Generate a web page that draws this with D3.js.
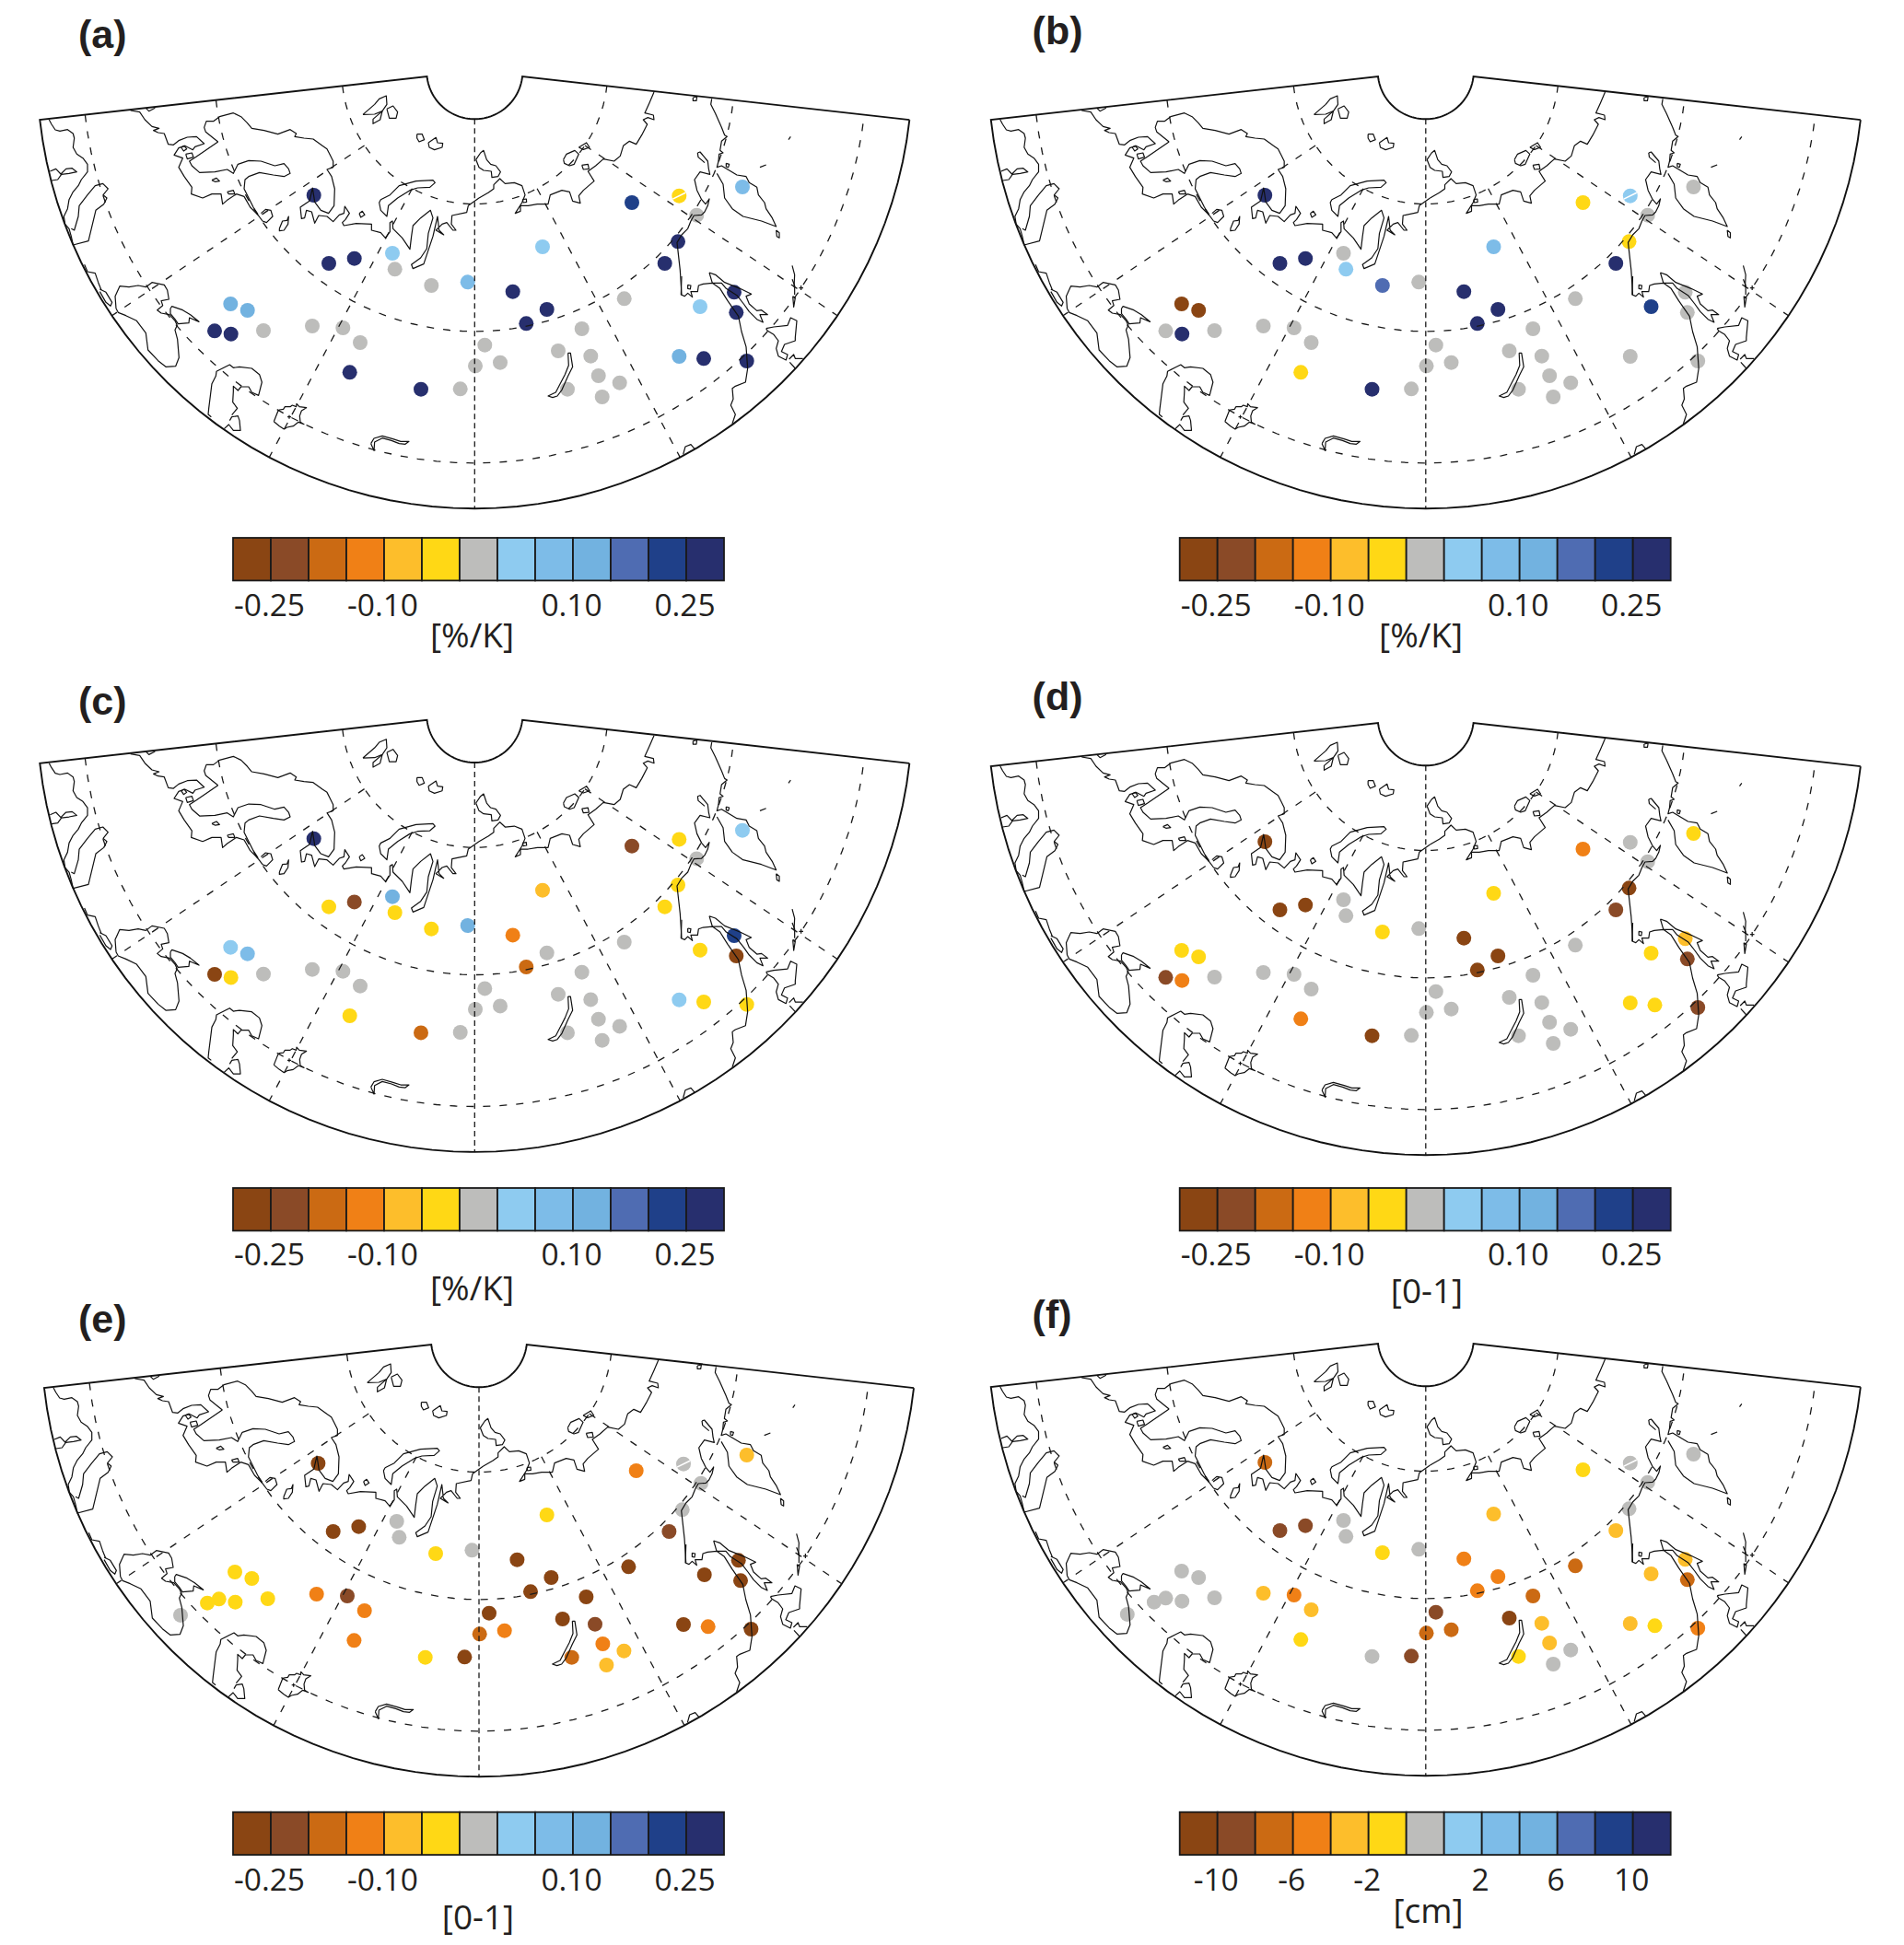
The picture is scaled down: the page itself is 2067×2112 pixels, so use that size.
<html>
<head>
<meta charset="utf-8">
<script src="https://d3js.org/d3.v7.min.js"></script>
<style>
body{margin:0;background:#fff}
text{fill:#231f20}
</style>
</head>
<body>
<svg id="fig" width="2067" height="2112"></svg>
<script>
// colour classes, brown to navy
const classColors=["#8a4513","#8a4a27","#cb6a13","#f08016","#fdbe2b","#ffd815","#bdbdbb","#8ecbf0","#7dbce8","#72b2e0","#4f6cb2","#1f4089","#272f6e"]

const panelNames=["(a)","(b)","(c)","(d)","(e)","(f)"]
const unitLabels=["[%/K]","[%/K]","[%/K]","[0-1]","[0-1]","[cm]"]
const pctTicks=["-0.25","-0.10","0.10","0.25"]
const pctTickIdx=[1,4,9,12]
const cmTicks=["-10","-6","-2","2","6","10"]
const cmTickIdx=[1,3,5,8,10,12]

// stations, read in pixels of panel (a)
const stationX=[340.7,357,384.7,426,428.7,468.3,507.7,686,737.3,806,756.3,736,721.7,589,556.7,593.7,571.3,677.7,631.7,606,641.3,649.7,672.7,616,653.7,760,797,799.3,737.3,764,810.7,526.3,543,516,250.3,268.7,233,250.7,286,339,372.3,391,379.7,457,499.7,220.4,191.3]
const stationY=[212,286,280.7,275,292.3,310,306.3,220,212.7,203,233.7,262.3,286,268,316.7,336,351.3,324.3,357,381,386.7,408,415.7,422.7,431,333,317.3,339.3,387,389.3,392,374.7,393.7,397.3,330,337,359.3,362.7,359,354,356,372,404.3,422.7,422.3,363.7,376.9]

// class index per station, -1 = no dot in that panel
const classA=[12,12,12,7,6,6,8,11,5,8,6,12,12,7,12,12,12,6,6,6,6,6,6,6,6,7,12,12,9,12,12,6,6,6,9,9,12,12,6,6,6,6,12,12,6,-1,-1]
const classB=[12,12,12,6,7,10,6,5,7,6,6,5,12,8,12,12,12,6,6,6,6,6,6,6,6,11,6,6,6,-1,6,6,6,6,0,0,6,12,6,6,6,6,5,12,6,-1,-1]
const classC=[12,5,1,9,5,5,9,1,5,7,6,5,5,4,3,6,2,6,6,6,6,6,6,6,6,5,11,0,7,5,5,6,6,6,7,8,0,5,6,6,6,6,5,2,6,-1,-1]
const classD=[0,0,0,6,6,5,6,3,6,5,6,0,1,5,0,0,0,6,6,6,6,6,6,6,6,5,4,1,5,5,1,6,6,6,5,5,1,3,6,6,6,6,3,0,6,-1,-1]
const classE=[0,0,0,6,6,5,6,3,6,4,6,6,1,5,0,0,0,0,0,0,1,3,4,2,4,0,0,0,0,3,0,0,3,2,5,5,5,5,5,3,1,3,3,5,0,5,6]
const classF=[2,1,1,6,6,5,6,5,6,6,6,6,4,4,3,3,3,2,2,0,4,4,6,5,6,4,4,2,4,5,3,1,2,2,6,6,6,6,6,4,3,4,5,6,1,6,6]

// the scan has a thin white nick across station 9 in these panels
const nickPanels=[0,1,4,5]
const nickStation=8

const coastNW=[
[[40,150],[48,165],[60,183],[75,187],[100,182],[118,195],[122,210],[118,240],[130,262],[150,275],[165,295],[165,320],[145,345],[135,365],[118,385],[105,410],[100,440],[88,465],[92,490],[105,505],[112,530],[118,558],[168,545],[192,445],[218,425],[228,405],[216,395],[232,375],[215,358],[190,365],[165,395],[138,430],[135,465],[122,510],[112,505]],
[[43,318],[62,310],[78,327],[95,310],[115,308],[130,320],[105,325],[80,328],[68,345],[48,348]],
[[305,120],[335,125],[352,150],[375,172],[398,178],[380,185],[395,192],[415,195],[428,230],[445,232],[462,218],[490,207],[520,205],[545,228],[515,238],[508,248],[482,235],[462,242],[447,265],[475,275],[462,305],[480,335],[505,370],[503,392],[540,405],[570,392],[600,392],[605,425],[620,412],[650,392],[675,400],[695,435],[720,460],[735,480],[748,485],[768,465],[762,445],[745,442],[730,455]],
[[355,112],[365,122],[385,112]],
[[590,222],[520,270],[497,285],[505,300],[530,322],[580,320],[620,312],[640,325],[655,295],[690,283],[730,285],[775,300],[805,293],[820,310],[825,325],[805,335],[770,330],[725,322],[690,335],[678,345],[675,375],[690,405],[705,435],[720,458]],
[[590,222],[575,210],[550,190],[545,175],[552,155],[575,155],[595,140],[640,128],[665,140],[685,160],[700,178],[740,185],[785,197],[825,182],[845,195],[840,205],[870,210],[900,213],[930,235],[945,245],[955,265],[965,285],[965,305],[945,312],[960,335],[970,375],[968,430],[950,455],[925,445],[905,418],[898,372],[888,415],[880,420],[858,435],[862,472],[872,470],[878,445],[895,450],[905,487],[918,462],[945,465],[965,482],[985,460],[1000,455],[1003,432],[1018,455],[1005,475],[995,485],[1000,495],[1040,488],[1090,490],[1090,510],[1120,518],[1135,535],[1150,515],[1150,485],[1158,480],[1160,505],[1190,535],[1215,572],[1220,530],[1225,495],[1250,470],[1282,445],[1290,470],[1275,520],[1270,570],[1250,600],[1220,622],[1225,635],[1260,620],[1275,575],[1290,530],[1305,465],[1310,510],[1325,525],[1300,510],[1320,490],[1335,485],[1355,510],[1365,510],[1350,490],[1352,462],[1400,452],[1405,430],[1440,405]],
[[1120,410],[1150,395],[1180,365],[1235,350],[1290,347],[1297,355],[1280,370],[1240,372],[1215,380],[1175,405],[1145,430],[1140,465],[1120,445],[1115,420],[1120,410]],
[[1062,133],[1100,100],[1115,82],[1138,72],[1140,100],[1125,122],[1100,132],[1062,133]],
[[1125,122],[1118,150],[1095,163],[1095,148],[1125,122]],
[[1140,115],[1160,105],[1175,125],[1170,145],[1148,145],[1140,115]],
[[1238,197],[1255,197],[1262,215],[1245,222],[1238,210],[1238,197]],
[[1275,225],[1300,208],[1305,225],[1322,227],[1320,240],[1295,248],[1278,240],[1275,225]],
[[470,240],[480,235],[488,245],[478,252],[470,240]],
[[485,262],[505,258],[510,272],[490,278],[485,262]],
[[570,347],[585,340],[595,350],[580,352],[570,347]],
[[620,385],[640,380],[645,392],[625,392],[620,385]],
[[790,505],[800,480],[815,478],[820,465],[818,490],[805,510],[790,512],[790,505]],
[[1050,455],[1060,448],[1068,460],[1055,468],[1050,455]],
[[155,622],[165,645],[190,650],[200,680],[210,705]]
]
const coastNE=[
[[0,405],[30,388],[48,375],[48,362],[68,342],[85,358],[115,355],[140,365],[150,395],[140,420],[118,455],[135,448],[135,430],[160,430],[190,425],[225,425],[232,395],[270,380],[295,385],[305,415],[330,422],[325,398],[340,380],[375,350],[355,318],[380,300],[405,278],[440,285],[460,268],[470,235],[490,220],[512,230],[530,200],[548,165],[535,150],[550,143],[570,150],[568,135],[540,128],[555,95],[570,60]],
[[-10,280],[5,258],[15,250],[25,280],[38,295],[55,300],[70,320],[62,335],[42,338],[40,318],[15,315],[0,305],[-10,280]],
[[275,280],[285,262],[312,250],[325,262],[310,295],[295,300],[278,292],[275,280]],
[[325,240],[350,225],[360,240],[340,247],[325,240]],
[[335,298],[355,295],[358,310],[340,312],[335,298]],
[[142,410],[154,408],[155,418],[144,420],[142,410]],
[[697,78],[710,75],[708,88],[697,88],[697,78]],
[[758,82],[755,100],[770,130],[790,175],[800,200],[808,205],[790,220],[785,250],[795,258],[782,262],[780,285],[775,305],[790,300],[815,315],[840,330],[870,335],[880,355],[905,370],[910,395],[930,420],[935,440],[955,470],[968,498],[920,480],[860,465],[825,440],[800,405],[795,360],[775,325]],
[[712,258],[720,255],[745,285],[748,310],[752,328],[720,320],[702,345],[710,380],[725,410],[738,425],[750,408],[745,430],[735,450],[725,460],[700,462],[690,480],[680,505],[660,525],[645,550],[655,640],[660,720]],
[[712,258],[714,272],[735,290]],
[[968,510],[978,518],[978,535],[970,530],[968,510]],
[[805,292],[815,295],[812,305],[805,303],[805,292]],
[[915,305],[935,297]],
[[1008,215],[1015,205]],
[[1020,625],[1028,655],[1026,695]]
]
const coastSW=[
[[258,105],[255,65],[270,32],[300,35],[330,30],[355,35],[375,20],[415,28],[425,45],[430,75],[405,80],[410,95],[392,110],[405,120],[432,125],[450,145],[457,160],[450,175],[458,205],[463,265],[452,293],[420,295],[395,275],[362,240],[355,185],[325,145],[290,128],[265,118],[258,105]],
[[205,42],[225,52],[245,85],[240,97],[225,85],[205,50]],
[[435,105],[440,98],[475,110],[500,125],[528,148],[497,135],[495,152],[460,155],[450,140],[435,122],[435,105]],
[[568,458],[558,450],[560,430],[565,390],[570,350],[583,325],[585,310],[610,297],[628,288],[640,298],[660,295],[700,300],[725,320],[733,345],[722,388],[700,378],[690,360],[665,360],[655,372],[640,358],[640,375],[638,410],[653,430],[635,452]],
[[628,470],[635,458],[655,455],[660,470],[663,502],[640,502],[625,483],[610,497]],
[[772,473],[785,440],[790,435],[803,433],[808,425],[825,425],[832,420],[845,425],[846,415],[855,425],[878,428],[862,438],[856,455],[858,475],[870,482],[852,475],[835,488],[815,492],[805,498],[790,488],[772,473]],
[[816,458],[828,458]],[[822,452],[822,464]],
[[1088,545],[1098,528],[1125,520],[1160,530],[1185,538],[1212,538],[1200,547],[1180,545],[1155,535],[1125,527],[1100,540],[1098,568],[1088,545]]
]
const coastSE=[
[[660,0],[658,60],[670,65],[680,55],[695,68],[690,50],[712,50],[715,30],[730,25],[760,22],[785,40],[810,80],[845,130],[855,180],[870,230],[875,300],[868,345],[835,358],[825,365],[828,400],[820,420],[835,450],[825,480]],
[[750,-12],[770,-5],[800,20],[850,40],[887,58],[870,65],[880,90],[905,112],[920,110],[940,125],[915,125],[925,150],[905,140],[880,115],[862,90],[840,62],[805,40],[790,22],[760,22],[750,-12]],
[[680,28],[690,30],[688,42],[680,40],[680,28]],
[[935,170],[960,165],[1005,160],[1015,135],[1035,145],[1030,200],[1030,210],[995,222],[985,245],[1005,255],[1000,273],[975,260],[968,235],[975,210],[960,190],[940,178],[935,170]],
[[1010,270],[1025,255],[1030,268],[1055,268]],
[[1012,280],[1030,300]],
[[1022,65],[1025,100],[1030,70],[1022,65]],
[[1020,10],[1028,30],[1028,60]],
[[1042,38],[1056,38]],[[1049,30],[1049,45]],
[[665,580],[672,555],[690,548],[702,562]],
[[290,250],[298,250],[305,295],[290,325],[270,370],[255,390],[240,395],[225,390],[250,378],[262,355],[280,320],[292,290],[290,250]]
]

const coastZones=[[coastNW,40,80],[coastNE,520,80],[coastSW,40,300],[coastSE,520,300]]
const coasts=coastZones.flatMap(([lines,ox,oy])=>lines.map(l=>l.map(([x,y])=>[ox+x/3,oy+y/3])))

// grid of the sector map, in radians / fraction of the radius
const rad=Math.PI/180
const edgeAngle=83.6*rad
const innerRho=0.1097
const latRhos=[0.304,0.595,0.896]
const lonAngles=[-56,-28,28,56].map(d=>d*rad)
const mapC=[515.3,77.2], mapR=475
const polar=(rho,a)=>[mapC[0]+mapR*rho*Math.sin(a),mapC[1]+mapR*rho*Math.cos(a)]
const arcPts=(rho,a0,a1)=>d3.range(0,61).map(i=>polar(rho,a0+(a1-a0)*i/60))

// panel placement: shift from panel (a), colour bar box, label baselines
const panelDx=[0,1032.5,0,1032.5,4.7,1032.5]
const panelDy=[0,0,698.7,702,1377,1376]
const titleX=[85,1120.6,85,1120.6,85,1120.6]
const titleY=[52,48,776,771,1447,1442]
const barX0=[253,1280.7,253,1280.7,253,1280.7]
const barY0=[584,584,1290,1290,1967.7,1967.7]
const tickY=[669.4,669.4,1374.4,1374.4,2052.6,2052.6]
const unitX=[512.5,1542.6,512.5,1549,519,1550.5]
const unitY=[702.5,702.5,1411.5,1414.8,2094.8,2088]
const barW=533, barH=46.4

const panelClasses=[classA,classB,classC,classD,classE,classF]
const svg=d3.select("#fig")
svg.append("rect").attr("width",2067).attr("height",2112).attr("fill","#fff")

panelNames.forEach(function(name,i){
  const g=svg.append("g")
  const xs=d3.scaleLinear().domain([0,2067]).range([panelDx[i],2067+panelDx[i]])
  const ys=d3.scaleLinear().domain([0,2112]).range([panelDy[i],2112+panelDy[i]])
  const line=d3.line().x(d=>xs(d[0])).y(d=>ys(d[1]))

  const dots=stationX.map((x,k)=>({x:x,y:stationY[k],c:panelClasses[i][k]})).filter(d=>d.c>=0)
  g.append("g").selectAll("circle").data(dots).enter().append("circle")
    .attr("cx",d=>xs(d.x)).attr("cy",d=>ys(d.y)).attr("r",8)
    .attr("fill",d=>classColors[d.c])

  if(nickPanels.includes(i)){
    const nx=stationX[nickStation], ny=stationY[nickStation]
    g.append("path").attr("d",line([[nx-7,ny+3.4],[nx+7,ny-3.4]])).attr("stroke","#fff").attr("stroke-width",1.6)
  }

  // dashed graticule
  const grid=g.append("g").attr("fill","none").attr("stroke","#1a1a1a").attr("stroke-width",1.3)
  latRhos.forEach(function(r){
    grid.append("path").attr("d",line(arcPts(r,-edgeAngle,edgeAngle))).attr("stroke-dasharray","8 10")
  })
  lonAngles.forEach(function(a){
    grid.append("path").attr("d",line([polar(latRhos[0],a),polar(1,a)])).attr("stroke-dasharray","8 10")
  })
  grid.append("path").attr("d",line([polar(innerRho,0),polar(1,0)])).attr("stroke-dasharray","6 4")

  g.append("g").attr("fill","none").attr("stroke","#111").attr("stroke-width",1.2).attr("stroke-linejoin","round")
    .selectAll("path").data(coasts).enter().append("path").attr("d",line)

  // sector outline
  const outline=arcPts(1,edgeAngle,-edgeAngle).concat(arcPts(innerRho,-edgeAngle,edgeAngle))
  outline.push(outline[0])
  g.append("path").attr("d",line(outline)).attr("fill","none").attr("stroke","#111").attr("stroke-width",1.9)

  // colour bar
  const bx=d3.scaleLinear().domain([0,13]).range([barX0[i],barX0[i]+barW])
  g.append("g").selectAll("rect").data(classColors).enter().append("rect")
    .attr("x",(d,k)=>bx(k)).attr("y",barY0[i]).attr("width",bx(1)-bx(0)).attr("height",barH)
    .attr("fill",d=>d).attr("stroke","#1a1a1a").attr("stroke-width",1.8)

  const isCm=i==5
  const idx=isCm?cmTickIdx:pctTickIdx
  const labs=isCm?cmTicks:pctTicks
  const axis=d3.axisBottom(bx).tickValues(idx).tickSize(0).tickFormat((d,k)=>labs[k])
  const ax=g.append("g").attr("transform","translate(0,"+tickY[i]+")").call(axis)
  ax.select(".domain").remove()
  ax.selectAll("text").attr("y",0).attr("dy",0).attr("dx",-2)
    .attr("font-family","Open Sans").attr("font-size",33.5).style("fill","#231f20")

  g.append("text").attr("x",unitX[i]).attr("y",unitY[i]).attr("text-anchor","middle")
    .attr("font-family","Open Sans").attr("font-size",37).text(unitLabels[i])
  g.append("text").attr("x",titleX[i]).attr("y",titleY[i])
    .attr("font-family","Liberation Sans").attr("font-weight","bold").attr("font-size",43).text(name)
})
</script>
</body>
</html>
